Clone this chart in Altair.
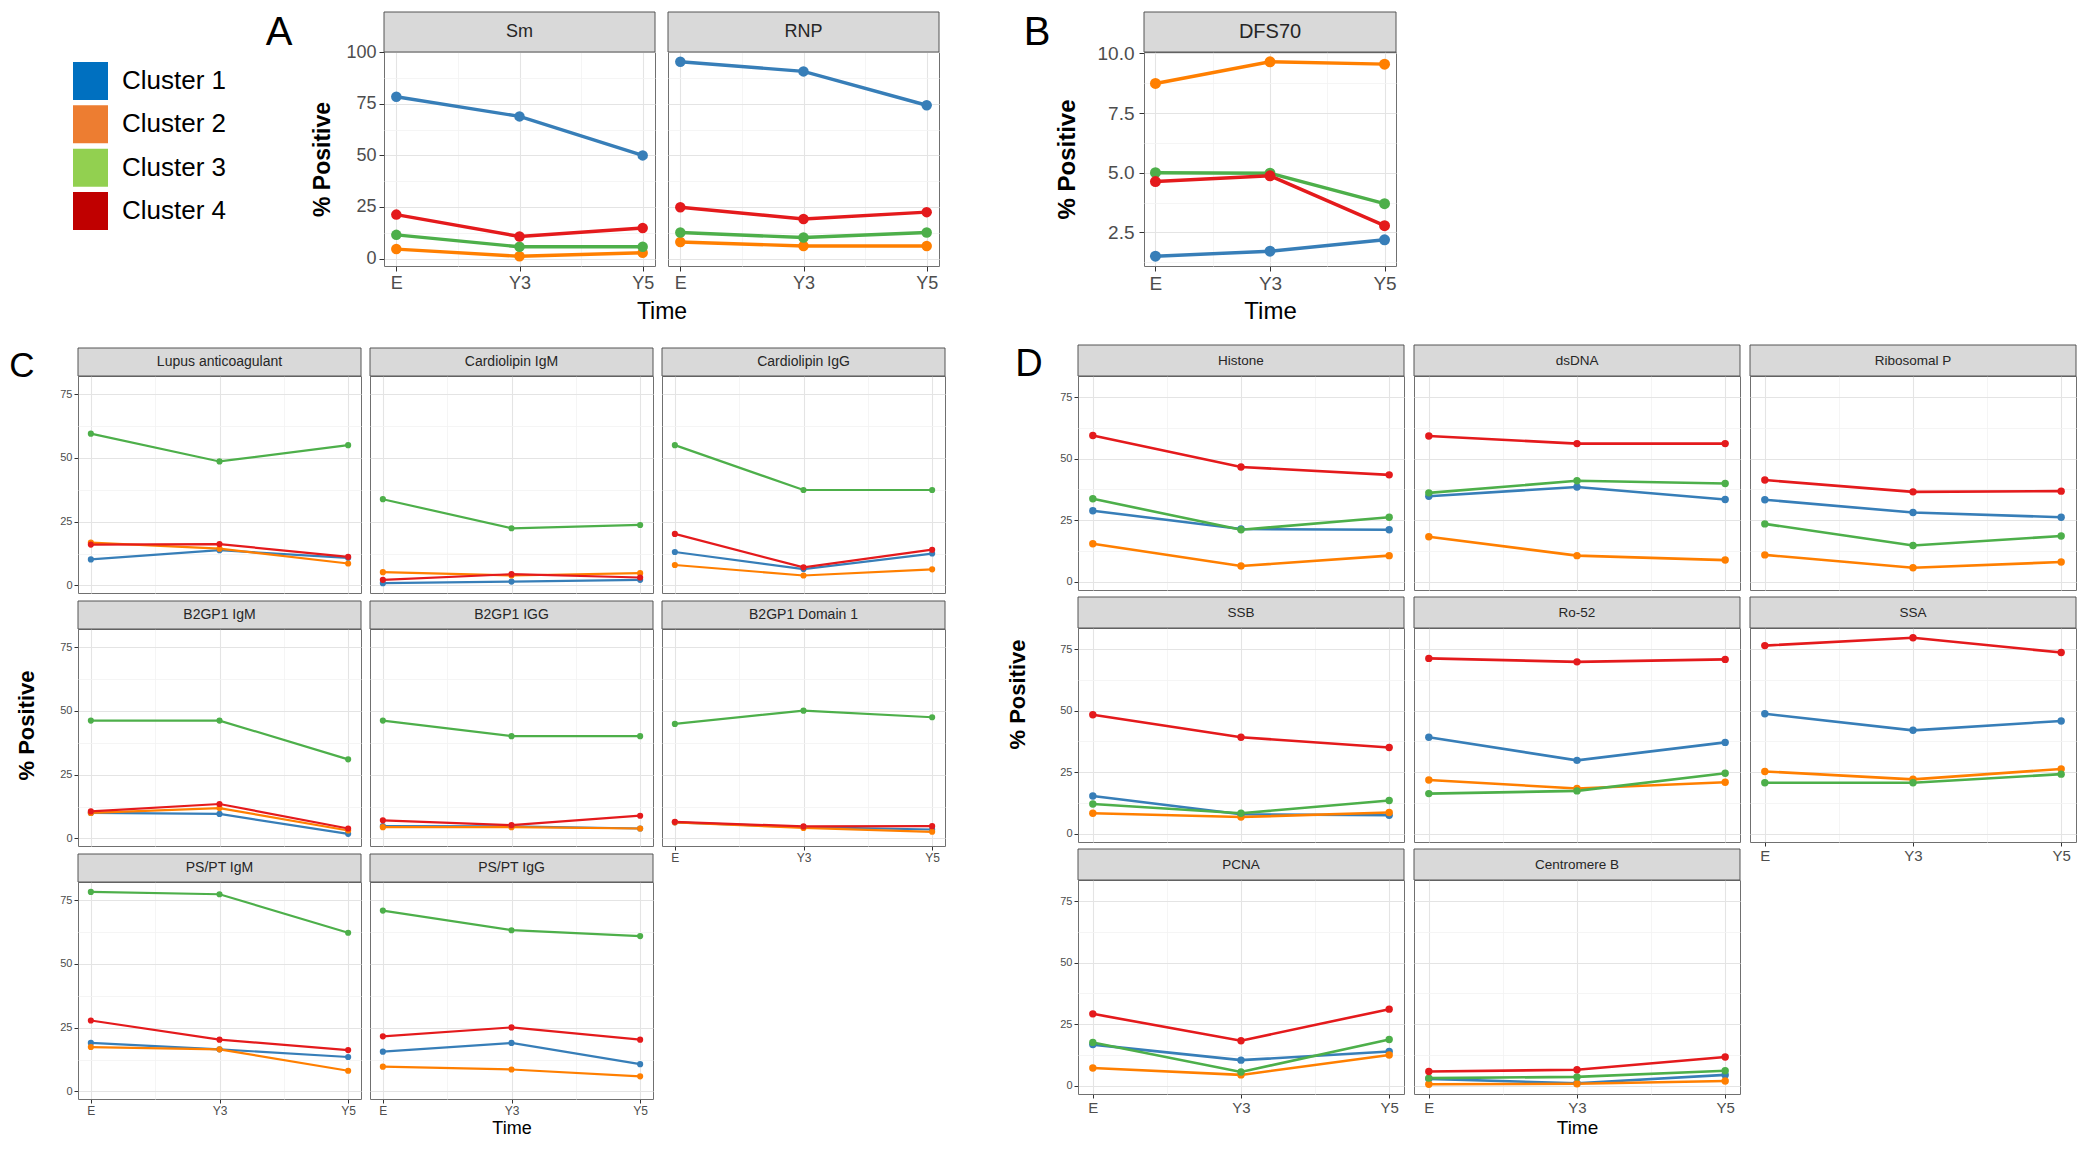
import altair as alt
import pandas as pd

times = ["E", "Y3", "Y5"]
clusters = ["Cluster 1", "Cluster 2", "Cluster 3", "Cluster 4"]
line_colors = ["#377eb8", "#ff7f00", "#4daf4a", "#e41a1c"]
legend_colors = ["#0070c0", "#ed7d31", "#92d050", "#c00000"]

# values: rows = Cluster 1..4, columns = E, Y3, Y5 (% positive)
# Panel A
sm = [[78.4, 68.9, 50.0], [4.6, 1.1, 2.8], [11.5, 5.7, 5.7], [21.3, 10.7, 14.8]]
rnp = [[95.4, 90.7, 74.3], [8.0, 6.1, 6.1], [12.6, 10.2, 12.6], [24.9, 19.2, 22.5]]
# Panel B
dfs70 = [[1.5, 1.71, 2.19], [8.74, 9.65, 9.55], [5.0, 4.98, 3.7], [4.63, 4.87, 2.78]]
# Panel C
lupus_anticoagulant = [[10.2, 13.8, 10.8], [16.8, 14.4, 8.6], [59.5, 48.6, 55.0], [16.0, 16.2, 11.2]]
cardiolipin_igm = [[0.9, 1.5, 2.2], [5.2, 3.9, 4.8], [33.8, 22.4, 23.7], [2.2, 4.4, 3.1]]
cardiolipin_igg = [[13.1, 6.4, 12.5], [8.0, 3.9, 6.3], [55.0, 37.4, 37.4], [20.2, 7.1, 14.0]]
b2gp1_igm = [[10.0, 9.6, 1.8], [10.0, 11.9, 3.1], [46.2, 46.2, 31.0], [10.6, 13.5, 3.9]]
b2gp1_igg = [[4.8, 4.7, 3.9], [4.4, 4.4, 3.9], [46.2, 40.1, 40.1], [7.1, 5.2, 8.9]]
b2gp1_domain1 = [[6.3, 4.4, 3.5], [6.3, 4.1, 2.6], [44.9, 50.1, 47.5], [6.5, 4.7, 4.8]]
pspt_igm = [[19.0, 16.5, 13.5], [17.4, 16.5, 8.1], [78.2, 77.3, 62.2], [27.8, 20.3, 16.2]]
pspt_igg = [[15.6, 19.0, 10.7], [9.7, 8.6, 5.9], [70.9, 63.2, 60.9], [21.6, 25.1, 20.3]]
# Panel D
histone = [[28.8, 21.4, 21.1], [15.4, 6.4, 10.6], [33.7, 21.1, 26.2], [59.4, 46.6, 43.4]]
dsdna = [[34.7, 38.5, 33.4], [18.3, 10.6, 8.8], [36.1, 41.0, 39.9], [59.2, 56.1, 56.1]]
ribosomal_p = [[33.3, 28.1, 26.2], [10.9, 5.7, 8.0], [23.5, 14.7, 18.6], [41.3, 36.5, 36.8]]
ssb = [[15.3, 7.9, 7.5], [8.3, 6.8, 8.6], [12.1, 8.3, 13.5], [48.3, 39.2, 35.0]]
ro52 = [[39.2, 29.8, 37.1], [21.8, 18.4, 20.9], [16.3, 17.4, 24.6], [71.2, 69.8, 70.8]]
ssa = [[48.7, 42.0, 45.8], [25.3, 22.1, 26.3], [20.7, 20.7, 24.2], [76.4, 79.6, 73.6]]
pcna = [[16.7, 10.4, 13.9], [7.2, 4.4, 12.5], [17.6, 5.6, 18.8], [29.2, 18.3, 31.1]]
centromere_b = [[2.8, 1.0, 4.4], [0.6, 0.8, 1.9], [3.1, 3.6, 6.1], [5.8, 6.5, 11.7]]

panel_c_names = ["Lupus anticoagulant", "Cardiolipin IgM", "Cardiolipin IgG",
                 "B2GP1 IgM", "B2GP1 IGG", "B2GP1 Domain 1", "PS/PT IgM", "PS/PT IgG"]
panel_c_values = [lupus_anticoagulant, cardiolipin_igm, cardiolipin_igg,
                  b2gp1_igm, b2gp1_igg, b2gp1_domain1, pspt_igm, pspt_igg]
panel_d_names = ["Histone", "dsDNA", "Ribosomal P", "SSB", "Ro-52", "SSA", "PCNA", "Centromere B"]
panel_d_values = [histone, dsdna, ribosomal_p, ssb, ro52, ssa, pcna, centromere_b]


def long_table(values):
    rows = []
    for ci, cl in enumerate(clusters):
        for ti, t in enumerate(times):
            rows.append({"cluster": cl, "t": ti, "time": t, "value": values[ci][ti]})
    return pd.DataFrame(rows)


X_LABEL_EXPR = " : ".join(f"datum.value == {i} ? '{t}'" for i, t in enumerate(times)) + " : ''"
X_MINOR = "abs(datum.value % 1) > 0.001"


def make_axis(values, minor_test, show, label_expr, label_size, tick_size, label_pad,
              title=None, title_opts=None, fmt=None):
    kw = dict(
        values=values,
        grid=True,
        gridColor={"condition": {"test": minor_test, "value": "#f3f3f3"}, "value": "#e4e4e4"},
        gridWidth={"condition": {"test": minor_test, "value": 0.8}, "value": 1.1},
        domain=False,
        labelOverlap=False,
        labelFlush=False,
    )
    if show:
        kw.update(
            labels=True, ticks=True, labelExpr=label_expr, labelFontSize=label_size,
            labelColor="#4d4d4d", tickColor="#333333", tickSize=tick_size, tickWidth=1,
            tickOpacity={"condition": {"test": minor_test, "value": 0}, "value": 1},
            labelPadding=label_pad,
        )
        if fmt:
            kw["format"] = fmt
    else:
        kw.update(labels=False, ticks=False)
    if title:
        kw.update(title=title, titleColor="black")
        kw.update(title_opts or {})
    else:
        kw["title"] = None
    return alt.Axis(**kw)


def facet(name, values, st, show_x=False, show_y=False, x_title=None, y_title=None, letter=None):
    W, H, SH = st["w"], st["h"], st["sh"]
    df = long_table(values)
    y_test = f"abs(datum.value % {st['ystep']}) > 0.001"
    yaxis = make_axis(st["ymajor"] + st["yminor"], y_test, show_y,
                      f"({y_test}) ? '' : datum.label", st["ylab"], st["tick"], st["ypad"],
                      y_title, st.get("ytitle"), st.get("yfmt"))
    xaxis = make_axis([0, 0.5, 1, 1.5, 2], X_MINOR, show_x, X_LABEL_EXPR, st["xlab"],
                      st["tick"], st["xpad"], x_title, st.get("xtitle"))
    x = alt.X("t:Q", scale=alt.Scale(domain=[-0.1, 2.1], nice=False, zero=False), axis=xaxis)
    y = alt.Y("value:Q", scale=alt.Scale(domain=st["ydom"], nice=False, zero=False), axis=yaxis)
    color = alt.Color("cluster:N", scale=alt.Scale(domain=clusters, range=line_colors), legend=None)
    base = alt.Chart(df)
    lines = base.mark_line(strokeWidth=st["lw"]).encode(x=x, y=y, color=color)
    pts = base.mark_circle(size=st["ps"], opacity=1).encode(x=x, y=y, color=color)

    sbase = alt.Chart(pd.DataFrame({"label": [name]}))
    rect = sbase.mark_rect(fill="#d9d9d9", stroke="#555555", strokeWidth=1).encode(
        x=alt.value(0), x2=alt.value(W), y=alt.value(-SH), y2=alt.value(0))
    txt = sbase.mark_text(fontSize=st["sfont"], color="#262626", align="center",
                          baseline="middle").encode(
        text="label:N", x=alt.value(W / 2), y=alt.value(-SH / 2))
    layers = [lines, pts, rect, txt]
    if letter:
        layers.append(sbase.mark_text(fontSize=st["lfont"], color="black", align="center",
                                      baseline="top").encode(
            text=alt.value(letter), x=alt.value(st["ldx"]), y=alt.value(-SH + 1)))
    return alt.layer(*layers).properties(
        width=W, height=H, view=alt.ViewBackground(stroke="#707070", strokeWidth=1))


# ---------- legend ----------
leg_df = pd.DataFrame({"cluster": clusters, "color": legend_colors})
leg_y = alt.Y("cluster:N",
              scale=alt.Scale(domain=clusters, paddingInner=0.122, paddingOuter=0.231),
              axis=None)
leg_rect = alt.Chart(leg_df).mark_rect().encode(
    y=leg_y, x=alt.value(-5), x2=alt.value(30), color=alt.Color("color:N", scale=None))
leg_text = alt.Chart(leg_df).mark_text(align="left", baseline="middle", fontSize=26,
                                       color="black").encode(
    y=leg_y, x=alt.value(44), text="cluster:N")
legend = alt.layer(leg_rect, leg_text).properties(
    width=170, height=188, view=alt.ViewBackground(stroke="transparent"))

# ---------- panel A ----------
st_A = dict(w=271, h=214, sh=40, ydom=[-3.6, 100.1], ymajor=[0, 25, 50, 75, 100],
            yminor=[12.5, 37.5, 62.5, 87.5], ystep=25, ylab=18, xlab=18, tick=5, ypad=3, xpad=3,
            sfont=18, lw=3.4, ps=110, lfont=40, ldx=-105,
            ytitle=dict(titleFontSize=23, titleFontWeight="bold", titlePadding=11),
            xtitle=dict(titleFontSize=23, titleFontWeight="normal", titlePadding=8, titleX=277.5))
sm_chart = facet("Sm", sm, st_A, show_x=True, show_y=True, x_title="Time",
                 y_title="% Positive", letter="A")
rnp_chart = facet("RNP", rnp, st_A, show_x=True)
panelA = alt.hconcat(sm_chart, rnp_chart, spacing=13, bounds="flush")

# ---------- panel B ----------
st_B = dict(w=252, h=214, sh=40, ydom=[1.09, 10.06], ymajor=[2.5, 5, 7.5, 10],
            yminor=[1.25, 3.75, 6.25, 8.75], ystep=2.5, yfmt=".1f", ylab=19, xlab=19, tick=5,
            ypad=5, xpad=3, sfont=20, lw=3.4, ps=120, lfont=40, ldx=-107,
            ytitle=dict(titleFontSize=24, titleFontWeight="bold", titlePadding=18),
            xtitle=dict(titleFontSize=24, titleFontWeight="normal", titlePadding=6))
panelB = facet("DFS70", dfs70, st_B, show_x=True, show_y=True, x_title="Time",
               y_title="% Positive", letter="B")

# ---------- panel C ----------
st_C = dict(w=283, h=217, sh=28, ydom=[-2.97, 82.1], ymajor=[0, 25, 50, 75],
            yminor=[12.5, 37.5, 62.5], ystep=25, ylab=11, xlab=12, tick=4, ypad=2, xpad=2,
            sfont=14, lw=2.2, ps=38, lfont=35, ldx=-56,
            ytitle=dict(titleFontSize=22, titleFontWeight="bold", titlePadding=21, titleY=96),
            xtitle=dict(titleFontSize=18, titleFontWeight="normal", titlePadding=3))
c_items = []
for i, (nm, vals) in enumerate(zip(panel_c_names, panel_c_values)):
    c_items.append(facet(
        nm, vals, st_C,
        show_x=i in (5, 6, 7), show_y=i in (0, 3, 6),
        x_title="Time" if i == 7 else None,
        y_title="% Positive" if i == 3 else None,
        letter="C" if i == 0 else None))
panelC = alt.concat(*c_items, columns=3, spacing={"row": 36, "column": 9}, bounds="flush")

# ---------- panel D ----------
st_D = dict(w=326, h=214, sh=31, ydom=[-3.35, 83.55], ymajor=[0, 25, 50, 75],
            yminor=[12.5, 37.5, 62.5], ystep=25, ylab=11, xlab=15, tick=4, ypad=2, xpad=2,
            sfont=13.5, lw=2.6, ps=55, lfont=38, ldx=-49,
            ytitle=dict(titleFontSize=22, titleFontWeight="bold", titlePadding=30, titleY=66),
            xtitle=dict(titleFontSize=19, titleFontWeight="normal", titlePadding=3))
d_items = []
for i, (nm, vals) in enumerate(zip(panel_d_names, panel_d_values)):
    d_items.append(facet(
        nm, vals, st_D,
        show_x=i in (5, 6, 7), show_y=i in (0, 3, 6),
        x_title="Time" if i == 7 else None,
        y_title="% Positive" if i == 3 else None,
        letter="D" if i == 0 else None))
panelD = alt.concat(*d_items, columns=3, spacing={"row": 38, "column": 10}, bounds="flush")

top_row = alt.hconcat(alt.hconcat(legend, panelA, spacing=16), panelB, spacing=83)
bottom_row = alt.hconcat(panelC, panelD, spacing=60)

chart = alt.vconcat(top_row, bottom_row, spacing=20).properties(
    padding={"left": 0, "top": 3, "right": 0, "bottom": 0}
).configure(font="Liberation Sans")

chart.save("out.html", embed_options={"renderer": "svg", "actions": False})
